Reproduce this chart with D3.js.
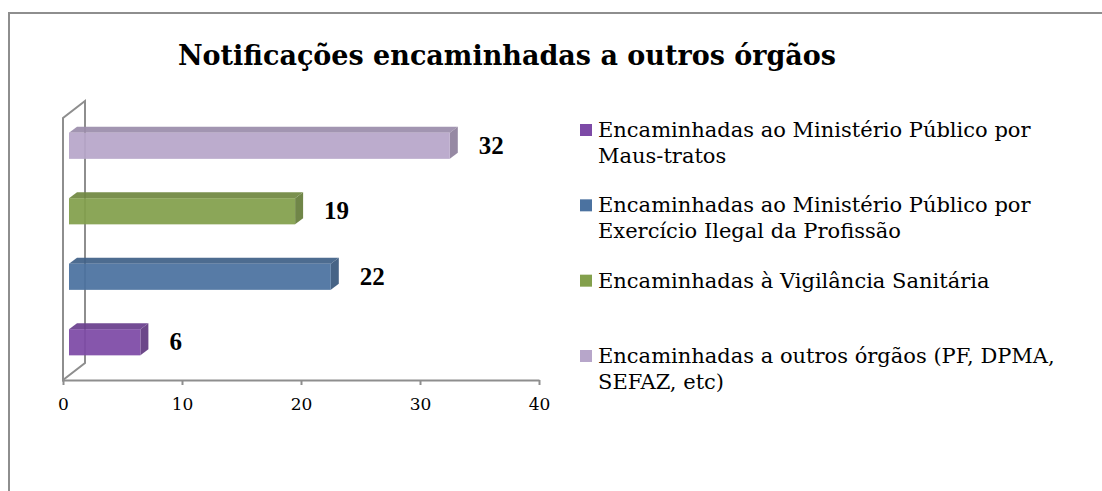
<!DOCTYPE html>
<html>
<head>
<meta charset="utf-8">
<script src="https://cdn.jsdelivr.net/npm/d3@7"></script>
<style>
  body { margin: 0; background: #fff; }
  svg { display: block; }
</style>
</head>
<body>
<div id="chart"></div>
<script>
// data, bottom bar first
const categories = [
  ["Encaminhadas ao Ministério Público por", "Maus-tratos"],
  ["Encaminhadas ao Ministério Público por", "Exercício Ilegal da Profissão"],
  ["Encaminhadas à Vigilância Sanitária"],
  ["Encaminhadas a outros órgãos (PF, DPMA,", "SEFAZ, etc)"]
];
const values = [6, 22, 19, 32];
const ticks = [0, 10, 20, 30, 40];
const colors = ["#7d4aa6", "#4b72a0", "#83a04c", "#b7a6ca"];

const width = 1102, height = 491;
const margin = {top: 118, left: 63, bottom: 111};

// depth offsets (fake 3d)
const wallDx = 22, wallDy = -17;
const barDx = 6, barDy = -5;
const faceDx = 8, faceDy = -6;

var svg = d3.select("#chart")
  .append("svg")
  .attr("width", width)
  .attr("height", height);

// outer frame (only top & left show)
svg.append("path")
  .attr("d", "M9,491 L9,13 L1102,13")
  .attr("fill", "none")
  .attr("stroke", "#8e8e8e")
  .attr("stroke-width", 2);

var x_scale = d3.scaleLinear()
  .domain([0, 40])
  .range([margin.left, 539]);

var y_scale = d3.scaleBand()
  .domain(d3.range(values.length))
  .range([height - margin.bottom, margin.top])
  .paddingInner(0.6)
  .paddingOuter(0.3);

const y0 = height - margin.bottom;
const x0 = x_scale(0);

// back wall
svg.append("path")
  .attr("d", `M${x0},${y0} L${x0},${margin.top} L${x0 + wallDx},${margin.top + wallDy} L${x0 + wallDx},${y0 + wallDy} Z`)
  .attr("fill", "none")
  .attr("stroke", "#8e8e8e")
  .attr("stroke-width", 2);

// x axis
var xAxis = svg.append("g")
  .attr("transform", `translate(0,${y0})`)
  .call(d3.axisBottom(x_scale).tickValues(ticks).tickSize(5).tickPadding(13).tickSizeOuter(0));
xAxis.select(".domain").attr("stroke", "#8e8e8e").attr("stroke-width", 2);
xAxis.selectAll(".tick line").attr("stroke", "#8e8e8e").attr("stroke-width", 2);
xAxis.selectAll(".tick text")
  .attr("fill", "#000")
  .style("font", "17px 'DejaVu Serif'");

// bars
var bars = svg.append("g").selectAll("g")
  .data(values)
  .join("g")
  .attr("opacity", 0.93);

bars.each(function(d, i) {
  var g = d3.select(this);
  var xl = x0 + barDx, xr = x_scale(d) + barDx;
  var yt = y_scale(i) + barDy, yb = yt + y_scale.bandwidth();
  var c = d3.color(colors[i]);
  // top face
  g.append("path")
    .attr("d", `M${xl},${yt} L${xl + faceDx},${yt + faceDy} L${xr + faceDx},${yt + faceDy} L${xr},${yt} Z`)
    .attr("fill", c.darker(0.45));
  // side face
  g.append("path")
    .attr("d", `M${xr},${yt} L${xr + faceDx},${yt + faceDy} L${xr + faceDx},${yb + faceDy} L${xr},${yb} Z`)
    .attr("fill", c.darker(0.7));
  // front face
  g.append("rect")
    .attr("x", xl)
    .attr("y", yt)
    .attr("width", xr - xl)
    .attr("height", yb - yt)
    .attr("fill", c);
});

// value labels
svg.append("g").selectAll("text")
  .data(values)
  .join("text")
  .attr("x", d => x_scale(d) + barDx + 29)
  .attr("y", (d, i) => y_scale(i) + barDy + y_scale.bandwidth() / 2 + 8)
  .style("font", "bold 25px 'Liberation Serif'")
  .text(d => d);

// title
svg.append("text")
  .attr("x", 507)
  .attr("y", 65)
  .attr("text-anchor", "middle")
  .style("font", "bold 27px 'DejaVu Serif'")
  .text("Notificações encaminhadas a outros órgãos");

// legend (top item = first category)
var legend_scale = d3.scalePoint()
  .domain(d3.range(categories.length))
  .range([130, 356]);

var legend = svg.append("g").selectAll("g")
  .data(categories)
  .join("g")
  .attr("transform", (d, i) => `translate(580,${legend_scale(i)})`);

legend.append("rect")
  .attr("x", 0)
  .attr("y", -6)
  .attr("width", 12)
  .attr("height", 12)
  .attr("fill", (d, i) => colors[i]);

legend.append("text")
  .attr("x", 18)
  .attr("y", 7)
  .style("font", "21px 'DejaVu Serif'")
  .attr("fill", "#000")
  .selectAll("tspan")
  .data(d => d)
  .join("tspan")
  .attr("x", 18)
  .attr("dy", (d, j) => j == 0 ? 0 : 25.5)
  .text(d => d);
</script>
</body>
</html>
